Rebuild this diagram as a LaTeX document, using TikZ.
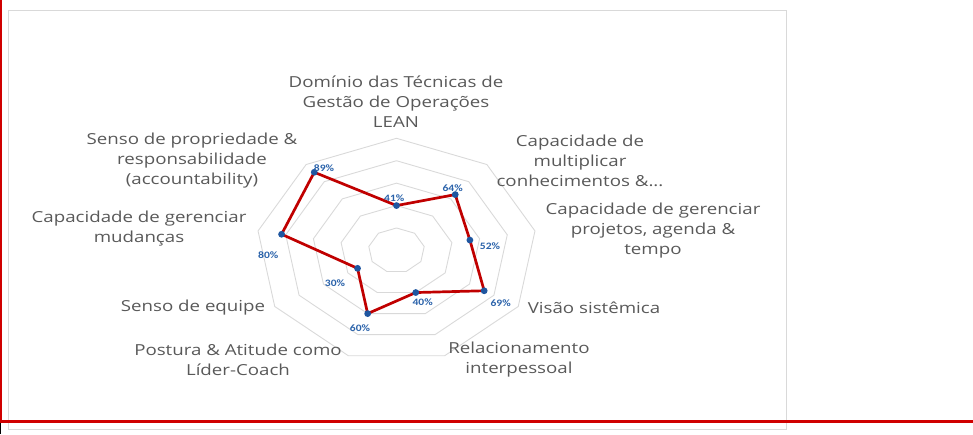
\documentclass[tikz,border=0pt]{standalone}
\usepackage{fontspec}
\setmainfont{Open Sans}
\newfontfamily\axisfont[FakeStretch=1.23]{Open Sans}
\newfontfamily\valfont[FakeStretch=1.18]{Carlito}

\definecolor{gridgray}{HTML}{D9D9D9}
\definecolor{labelgray}{HTML}{595959}
\definecolor{seriered}{HTML}{C00000}
\definecolor{markblue}{HTML}{1F56A0}
\definecolor{valblue}{HTML}{2A62AA}
\definecolor{pagered}{HTML}{D00000}

\tikzset{
  ring/.style={draw=gridgray, line width=0.9pt},
  serie/.style={draw=seriered, line width=2.7pt, line join=round},
  marker/.style={circle, fill=markblue, inner sep=0pt, minimum size=6.8pt},
  axislabel/.style={text=labelgray, font=\axisfont\fontsize{15.2}{20}\selectfont, align=center},
  vallabel/.style={text=valblue, font=\valfont\bfseries\fontsize{9.8}{10}\selectfont}
}

\begin{document}
\begin{tikzpicture}[x=1pt, y=-1pt]
    \useasboundingbox (0,0) rectangle (973,434);

    % Chart area
    \draw[gridgray, line width=1pt] (8.5,10.5) rectangle (786.5,429.5);

    % Page border lines
    \draw[pagered, line width=2pt] (1,0) -- (1,421.3);
    \draw[pagered, line width=2.5pt] (0,421.3) -- (973,421.3);
    \draw[black, line width=1pt] (0.5,422.5) -- (0.5,434);

    %% Radar chart
    \begin{scope}[shift={(396.5,250.4)}, x=140.6pt, y=112.1pt]

        % Grid rings, 20% apart
        \foreach \k in {1,...,5} {
            \pgfmathsetmacro{\r}{\k/5}
            \draw[ring] (90:\r) \foreach \a in {1,...,8} { -- ({90-40*\a}:\r) } -- cycle;
        }

        % Series points
        \foreach \v [count=\i from 0] in {0.40,0.65,0.53,0.72,0.40,0.60,0.32,0.83,0.91}
            \coordinate (v\i) at ({90-40*\i}:\v);

        % Series line
        \draw[serie] (v0) -- (v1) -- (v2) -- (v3) -- (v4) -- (v5) -- (v6) -- (v7) -- (v8) -- cycle;

        % Markers
        \foreach \i in {0,...,8}
            \node[marker] (m\i) at (v\i) {};

    \end{scope}

    % Data labels
    \node[vallabel] (val0) at (394.3,198.5) {41\%};
    \node[vallabel] (val1) at (452.7,187.7) {64\%};
    \node[vallabel] (val2) at (490.0,246.0) {52\%};
    \node[vallabel] (val3) at (500.7,303.3) {69\%};
    \node[vallabel] (val4) at (422.7,302.3) {40\%};
    \node[vallabel] (val5) at (360.0,327.7) {60\%};
    \node[vallabel] (val6) at (335.0,283.3) {30\%};
    \node[vallabel] (val7) at (268.3,255.3) {80\%};
    \node[vallabel] (val8) at (324.0,167.7) {89\%};

    % Category labels
    \node[axislabel] (cat0) at (396,102) {Domínio das Técnicas de\\Gestão de Operações\\LEAN};
    \node[axislabel] (cat1) at (580,161) {Capacidade de\\multiplicar\\conhecimentos \&...};
    \node[axislabel] (cat2) at (653,231) {Capacidade de gerenciar\\projetos, agenda \&\\tempo};
    \node[axislabel] (cat3) at (594,308) {Visão sistêmica};
    \node[axislabel] (cat4) at (519,360) {Relacionamento\\interpessoal};
    \node[axislabel] (cat5) at (238,360) {Postura \& Atitude como\\Líder-Coach};
    \node[axislabel] (cat6) at (193,308) {Senso de equipe};
    \node[axislabel] (cat7) at (139,229) {Capacidade de gerenciar\\mudanças};
    \node[axislabel] (cat8) at (192,161) {Senso de propriedade \&\\responsabilidade\\(accountability)};

\end{tikzpicture}
\end{document}
